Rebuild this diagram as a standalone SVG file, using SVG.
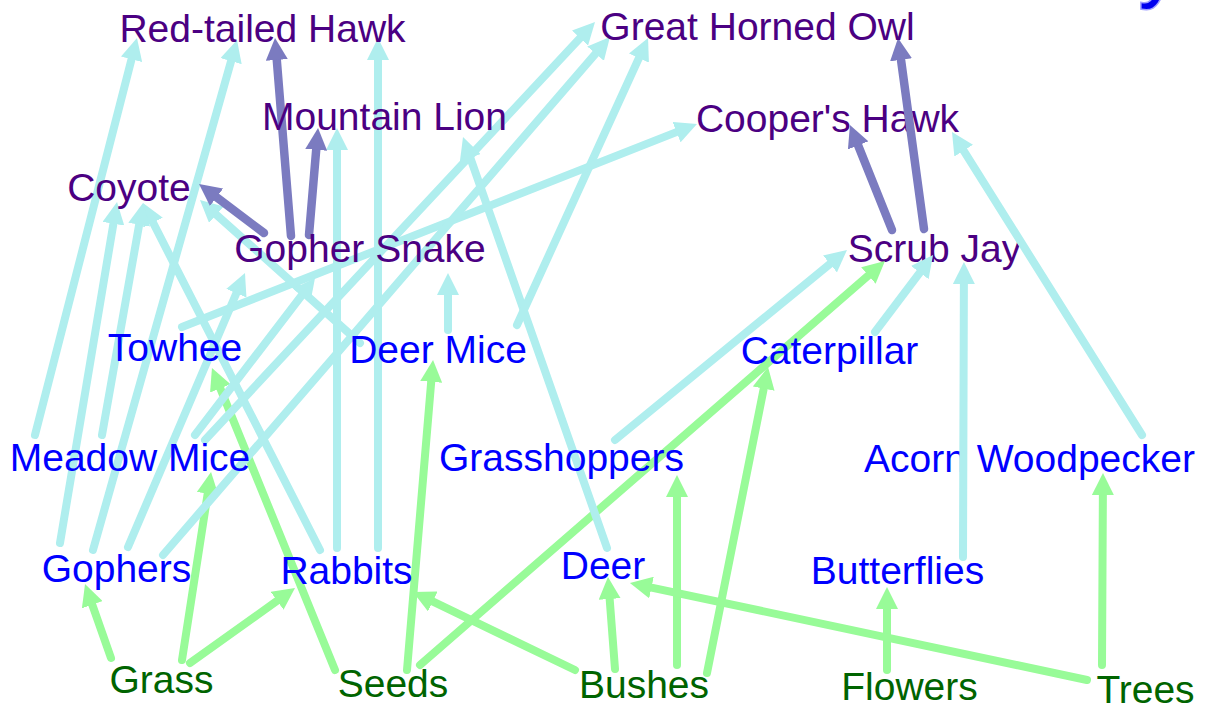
<svg xmlns="http://www.w3.org/2000/svg" width="1208" height="710" viewBox="0 0 1208 710">
<style>
text{font-family:"Liberation Sans",Arial,sans-serif;font-size:39px;text-anchor:middle}
.top{fill:#4b0082}.mid{fill:#0000ff}.bot{fill:#006400}
line{stroke-width:8;stroke-linecap:round;fill:none}
.c{stroke:#afeeee}.g{stroke:#98fb98}.p{stroke:#7b7bc0;stroke-width:8.5}
</style>
<defs>
<marker id="aC" markerUnits="userSpaceOnUse" markerWidth="22" markerHeight="22" viewBox="0 0 22 22" refX="6" refY="11" orient="auto"><path d="M0,0 L22,11 L0,22 z" fill="#afeeee"/></marker>
<marker id="aG" markerUnits="userSpaceOnUse" markerWidth="22" markerHeight="22" viewBox="0 0 22 22" refX="6" refY="11" orient="auto"><path d="M0,0 L22,11 L0,22 z" fill="#98fb98"/></marker>
<marker id="aP" markerUnits="userSpaceOnUse" markerWidth="22" markerHeight="22" viewBox="0 0 22 22" refX="6" refY="11" orient="auto"><path d="M0,0 L22,11 L0,22 z" fill="#7b7bc0"/></marker>
</defs>
<rect width="1208" height="710" fill="#ffffff"/>
<text x="1159" y="-8" style="font-size:80px;fill:#0000ee;stroke:#a0a0ff;stroke-width:3;paint-order:stroke">y</text>
<g id="node-acorn-woodpecker"><text class="mid" x="1029.5" y="472">Acorn Woodpecker</text></g>
<g id="node-scrub-jay"><text class="top" x="934.5" y="262">Scrub Jay</text></g>
<g id="node-coopers-hawk"><text class="top" x="827.5" y="132">Cooper's Hawk</text></g>
<g id="connectors">
<line class="g" x1="111" y1="658" x2="90.3" y2="599.1" marker-end="url(#aG)"/>
<line class="g" x1="182" y1="660" x2="208.6" y2="487.8" marker-end="url(#aG)"/>
<line class="g" x1="190" y1="663" x2="282" y2="597.3" marker-end="url(#aG)"/>
<line class="g" x1="335" y1="670" x2="218" y2="382.8" marker-end="url(#aG)"/>
<line class="g" x1="407" y1="670" x2="431.7" y2="375.9" marker-end="url(#aG)"/>
<line class="g" x1="420" y1="665" x2="872.9" y2="271.5" marker-end="url(#aG)"/>
<line class="g" x1="575" y1="670" x2="427.4" y2="598.9" marker-end="url(#aG)"/>
<line class="g" x1="615" y1="669" x2="609.2" y2="593" marker-end="url(#aG)"/>
<line class="g" x1="677" y1="665" x2="677" y2="491" marker-end="url(#aG)"/>
<line class="g" x1="707" y1="673" x2="764.9" y2="382.7" marker-end="url(#aG)"/>
<line class="g" x1="887" y1="670" x2="887" y2="603" marker-end="url(#aG)"/>
<line class="g" x1="1087" y1="680" x2="645.6" y2="586.3" marker-end="url(#aG)"/>
<line class="g" x1="1102" y1="665" x2="1102.9" y2="489" marker-end="url(#aG)"/>
<line class="c" x1="963" y1="557" x2="963.9" y2="278" marker-end="url(#aC)"/>
<line class="c" x1="1142" y1="435" x2="960.5" y2="145.6" marker-end="url(#aC)"/>
<line class="c" x1="875" y1="332" x2="923.4" y2="267.8" marker-end="url(#aC)"/>
<line class="c" x1="615" y1="440" x2="834.6" y2="260.1" marker-end="url(#aC)"/>
<line class="c" x1="607" y1="548" x2="468.3" y2="152.1" marker-end="url(#aC)"/>
<line class="c" x1="448" y1="330" x2="448" y2="289" marker-end="url(#aC)"/>
<line class="c" x1="517" y1="325" x2="641.4" y2="52.6" marker-end="url(#aC)"/>
<line class="c" x1="360" y1="343" x2="211.9" y2="210.7" marker-end="url(#aC)"/>
<line class="c" x1="182" y1="327" x2="682.1" y2="129.9" marker-end="url(#aC)"/>
<line class="c" x1="320" y1="550" x2="150.3" y2="217.3" marker-end="url(#aC)"/>
<line class="c" x1="337" y1="548" x2="337" y2="144" marker-end="url(#aC)"/>
<line class="c" x1="378" y1="548" x2="378" y2="54" marker-end="url(#aC)"/>
<line class="c" x1="60" y1="543" x2="114.4" y2="217.8" marker-end="url(#aC)"/>
<line class="c" x1="93" y1="550" x2="232.7" y2="55.4" marker-end="url(#aC)"/>
<line class="c" x1="128" y1="547" x2="238.7" y2="287.7" marker-end="url(#aC)"/>
<line class="c" x1="163" y1="555" x2="599.5" y2="49.1" marker-end="url(#aC)"/>
<line class="c" x1="35" y1="435" x2="133" y2="53.5" marker-end="url(#aC)"/>
<line class="c" x1="102" y1="435" x2="140.2" y2="218.8" marker-end="url(#aC)"/>
<line class="c" x1="195" y1="435" x2="305.3" y2="290.7" marker-end="url(#aC)"/>
<line class="c" x1="205" y1="440" x2="584.1" y2="33.7" marker-end="url(#aC)"/>
<line class="p" x1="264" y1="233" x2="211.8" y2="193.6" marker-end="url(#aP)"/>
<line class="p" x1="291" y1="236" x2="276.3" y2="54" marker-end="url(#aP)"/>
<line class="p" x1="309" y1="235" x2="316.7" y2="143.9" marker-end="url(#aP)"/>
<line class="p" x1="892" y1="230" x2="855.9" y2="139.8" marker-end="url(#aP)"/>
<line class="p" x1="924" y1="229" x2="900.2" y2="53.9" marker-end="url(#aP)"/>
</g>
<g id="node-red-tailed-hawk"><text class="top" x="262.5" y="42">Red-tailed Hawk</text></g>
<g id="node-great-horned-owl"><text class="top" x="757.5" y="40">Great Horned Owl</text></g>
<g id="node-mountain-lion"><text class="top" x="384.5" y="130">Mountain Lion</text></g>
<g id="node-coyote"><text class="top" x="129" y="201">Coyote</text></g>
<g id="node-gopher-snake"><text class="top" x="360" y="262">Gopher Snake</text></g>
<g id="node-towhee"><text class="mid" x="175" y="361">Towhee</text></g>
<g id="node-deer-mice"><text class="mid" x="438" y="363">Deer Mice</text></g>
<g id="node-caterpillar"><text class="mid" x="829.5" y="364">Caterpillar</text></g>
<g id="node-meadow-mice"><text class="mid" x="130" y="471">Meadow Mice</text></g>
<g id="node-grasshoppers"><text class="mid" x="561.5" y="471">Grasshoppers</text></g>
<g id="node-gophers"><text class="mid" x="116.5" y="582">Gophers</text></g>
<g id="node-rabbits"><text class="mid" x="346.5" y="584">Rabbits</text></g>
<g id="node-deer"><text class="mid" x="603" y="579">Deer</text></g>
<g id="node-butterflies"><text class="mid" x="897.5" y="584">Butterflies</text></g>
<g id="node-grass"><text class="bot" x="161.5" y="693">Grass</text></g>
<g id="node-seeds"><text class="bot" x="393" y="697">Seeds</text></g>
<g id="node-bushes"><text class="bot" x="644" y="698">Bushes</text></g>
<g id="node-flowers"><text class="bot" x="909.5" y="700">Flowers</text></g>
<g id="node-trees"><text class="bot" x="1145.5" y="703">Trees</text></g>
</svg>
